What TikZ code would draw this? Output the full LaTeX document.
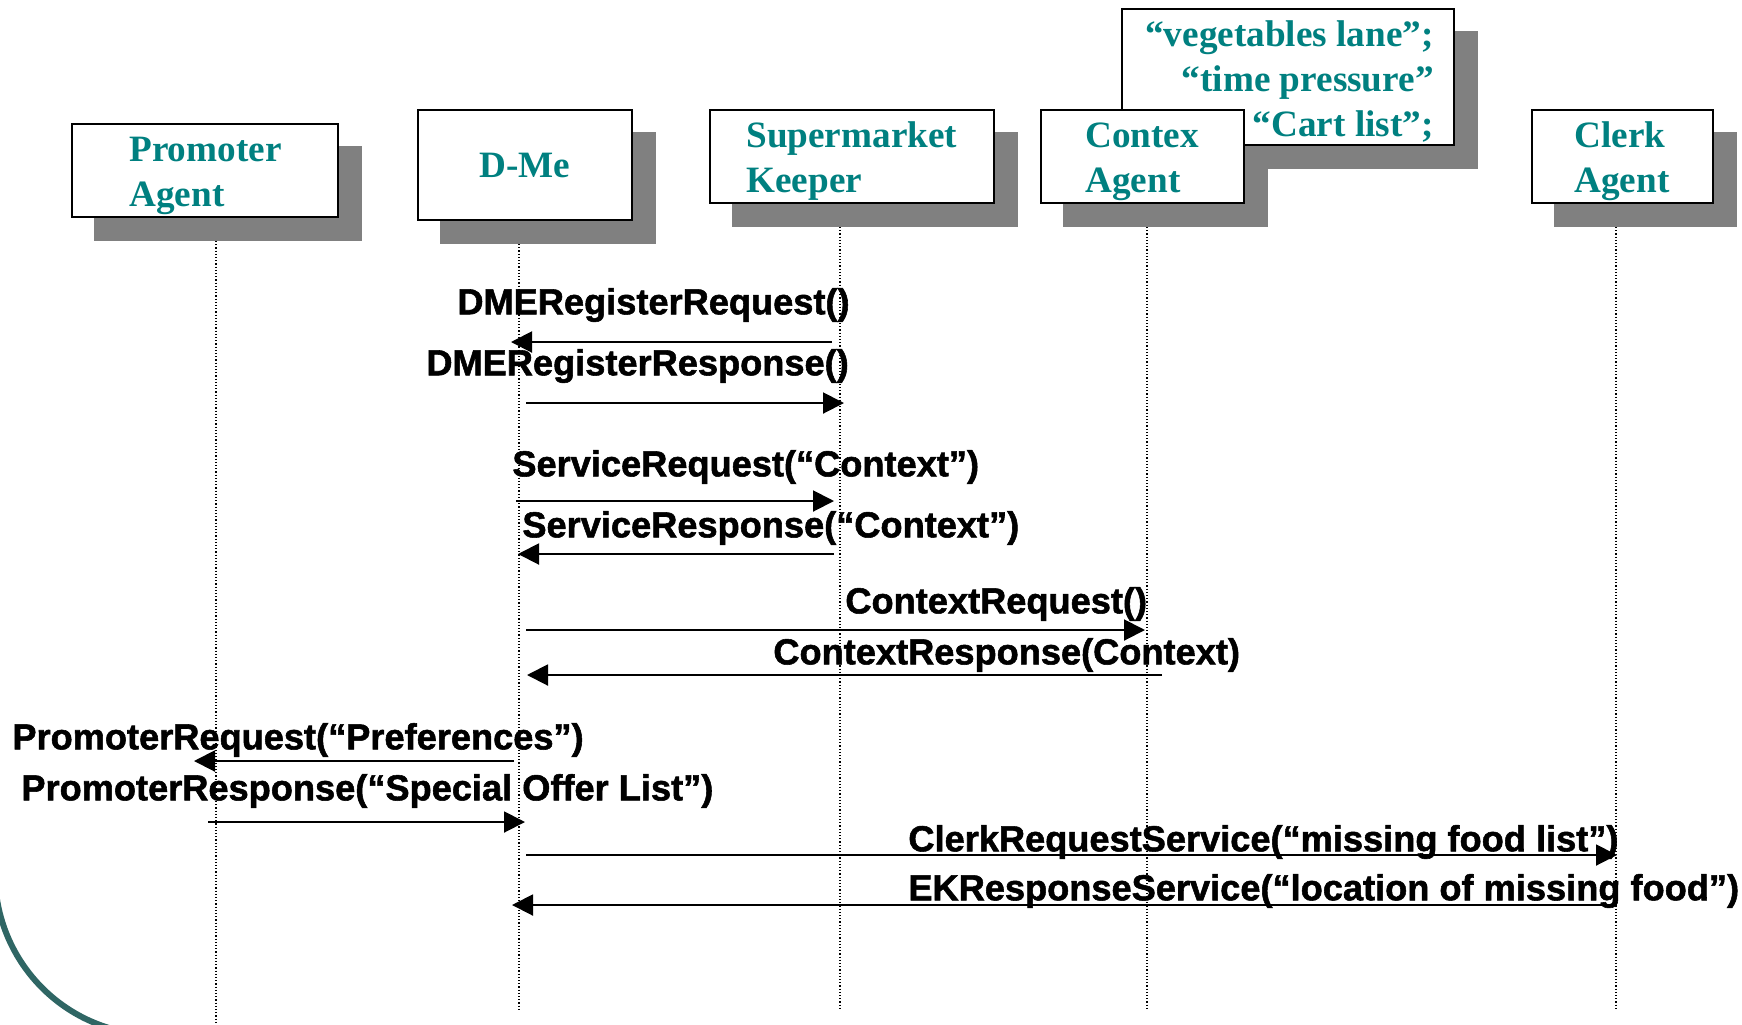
\documentclass[tikz,border=0pt]{standalone}
\usepackage{fontspec}
\setmainfont{Liberation Serif}
\setsansfont{Liberation Sans}[BoldFeatures={FakeBold=1.5}]
\usetikzlibrary{arrows.meta,positioning,calc,backgrounds}
\definecolor{agentteal}{RGB}{0,128,128}
\definecolor{slideteal}{RGB}{47,102,100}
\tikzset{
  agent/.style={
    draw,
    line width=1pt,
    fill=white,
    inner sep=0pt
  },
  boxshadow/.style={
    fill=black!50
  },
  agenttext/.style={
    font=\bfseries\fontsize{18.6}{22.5}\selectfont,
    text=agentteal,
    inner sep=0pt
  },
  lifeline/.style={
    line width=0.6pt,
    densely dotted
  },
  msg/.style={
    line width=1pt,
    -{Triangle[length=10.5pt,width=10.5pt]}
  },
  msgtext/.style={
    font=\sffamily\bfseries\fontsize{18.1}{20}\selectfont,
    anchor=west,
    inner sep=0pt
  }
}

\begin{document}
\begin{tikzpicture}[x=0.5pt,y=-0.5pt]
\useasboundingbox (0,0) rectangle (1742,1024);
\draw[line width=3pt,slideteal] (-5,874) arc[start angle=180,end angle=100,radius=161];

\node[agent,minimum width=133pt,minimum height=46.5pt] (promoter) at (205,170.5) {};
\node[agent,agenttext,minimum width=107pt,minimum height=55pt] (dme) at (525,165) {D-Me};
\node[agent,minimum width=142pt,minimum height=46.5pt] (keeper) at (852,156.5) {};
\node[agent,minimum width=166pt,minimum height=68pt] (note) at (1288,77) {};
\node[agent,minimum width=101.5pt,minimum height=46.5pt] (contex) at (1142.5,156.5) {};
\node[agent,minimum width=90.5pt,minimum height=46.5pt] (clerk) at (1622.5,156.5) {};

\node[agenttext,align=left,right=29pt of promoter.west,yshift=-2.7pt] (promoter-name) {Promoter\\Agent};
\node[agenttext,align=left,right=18.5pt of keeper.west,yshift=-2.5pt] (keeper-name) {Supermarket\\Keeper};
\node[agenttext,align=left,right=22.5pt of contex.west,yshift=-2.5pt] (contex-name) {Contex\\Agent};
\node[agenttext,align=left,right=21.5pt of clerk.west,yshift=-2.5pt] (clerk-name) {Clerk\\Agent};
\node[agenttext,align=right,left=10.5pt of note.east,yshift=-2.2pt] (note-text) {“vegetables lane”;\\“time pressure”\\“Cart list”;};

\begin{pgfonlayer}{background}
\foreach \b in {promoter,dme,keeper,note,contex,clerk}
  \fill[boxshadow] ([shift={(23,23)}]\b.north west) rectangle ([shift={(23,23)}]\b.south east);
\end{pgfonlayer}

\coordinate (promoter-line) at (216,0);
\coordinate (dme-line) at (519,0);
\coordinate (keeper-line) at (840,0);
\coordinate (contex-line) at (1147,0);
\coordinate (clerk-line) at (1616,0);
\foreach \a/\e in {promoter/1024,dme/1009,keeper/1009,contex/1008,clerk/1008}
  \draw[lifeline] ($(\a-line |- \a.south)+(0,23)$) -- ($(\a-line)+(0,\e)$);

\foreach \s/\ds/\t/\dt/\y in {keeper/-8/dme/-8/342, dme/7/keeper/4/403,
    dme/-3/keeper/-6/501, keeper/-6/dme/-1/554, dme/7/contex/-2/630,
    contex/15/dme/8/675, dme/-5/promoter/-22/761, promoter/-8/dme/6/822,
    dme/7/clerk/1/855, clerk/1/dme/-7/905}
  \draw[msg] ($(\s-line)+(\ds,\y)$) -- ($(\t-line)+(\dt,\y)$);

\node[msgtext] (reg-req) at (457,305) {DMERegisterRequest()};
\node[msgtext] (reg-resp) at (426,366) {DMERegisterResponse()};
\node[msgtext] (srv-req) at (512,467) {ServiceRequest(“Context”)};
\node[msgtext] (srv-resp) at (522,528) {ServiceResponse(“Context”)};
\node[msgtext] (ctx-req) at (845,604) {ContextRequest()};
\node[msgtext] (ctx-resp) at (773,655) {ContextResponse(Context)};
\node[msgtext] (prm-req) at (12,740) {PromoterRequest(“Preferences”)};
\node[msgtext] (prm-resp) at (21,791) {PromoterResponse(“Special Offer List”)};
\node[msgtext] (clk-req) at (908,842) {ClerkRequestService(“missing food list”)};
\node[msgtext] (clk-resp) at (908,891) {EKResponseService(“location of missing food”)};
\end{tikzpicture}
\end{document}
